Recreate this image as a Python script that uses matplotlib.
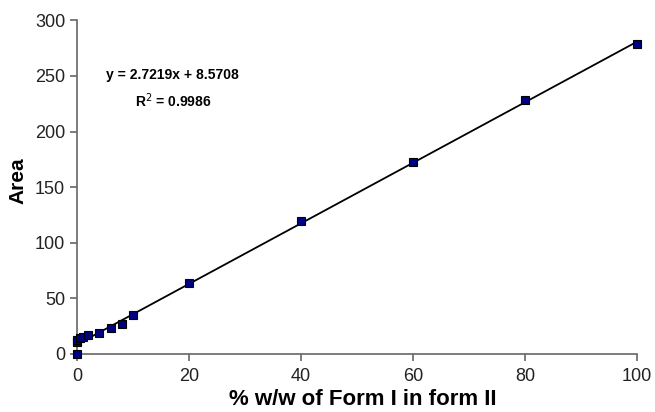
import matplotlib
matplotlib.use('Agg')
from matplotlib import pyplot as plt
import numpy as np

plt.rcParams['font.family'] = ['Liberation Sans', 'DejaVu Sans']

# concentration of Form I (% w/w) and measured area
conc = [0, 0, 0, 0.5, 1, 2, 4, 6, 8, 10, 20, 40, 60, 80, 100]
area = [0, 11, 13, 14, 15, 17, 19, 23, 27, 35, 64, 120, 173, 228, 279]
slope = 2.7219
intercept = 8.5708
r2 = 0.9986

fig = plt.figure(figsize=(6.55, 4.12), dpi=100)
ax = fig.add_axes([0.1176, 0.1408, 0.855, 0.81])

xf = np.array([0, 100])
ax.plot(xf, slope * xf + intercept, color='black', lw=1.3, zorder=2)
ax.plot(conc, area, 's', ms=6, mfc='#000080', mec='black', mew=0.8, zorder=3)

ax.text(17.1, 251, 'y = 2.7219x + 8.5708', ha='center', va='center',
        fontsize=10, fontweight='bold')
ax.text(17.1, 228, 'R$^2$ = 0.9986', ha='center', va='center',
        fontsize=10, fontweight='bold')

ax.set_xlim(0, 100)
ax.set_ylim(0, 300)
ax.set_xticks([0, 20, 40, 60, 80, 100])
ax.set_yticks([0, 50, 100, 150, 200, 250, 300])
for s in ['top', 'right']:
    ax.spines[s].set_visible(False)
for s in ['left', 'bottom']:
    ax.spines[s].set_color('#666666')
    ax.spines[s].set_linewidth(1.2)
ax.tick_params(direction='out', length=5, width=1.2, color='#666666',
               labelsize=13, labelcolor='#222222')
ax.tick_params(axis='x', pad=5)
ax.set_xlabel('% w/w of Form I in form II', fontsize=16, fontweight='bold', va='center')
ax.set_ylabel('Area', fontsize=15, fontweight='bold', va='center')
ax.xaxis.set_label_coords(0.51, -0.135)
ax.yaxis.set_label_coords(-0.105, 0.52)
for m in ax.lines:
    m.set_clip_on(False)

plt.savefig('out.png', dpi=100)
